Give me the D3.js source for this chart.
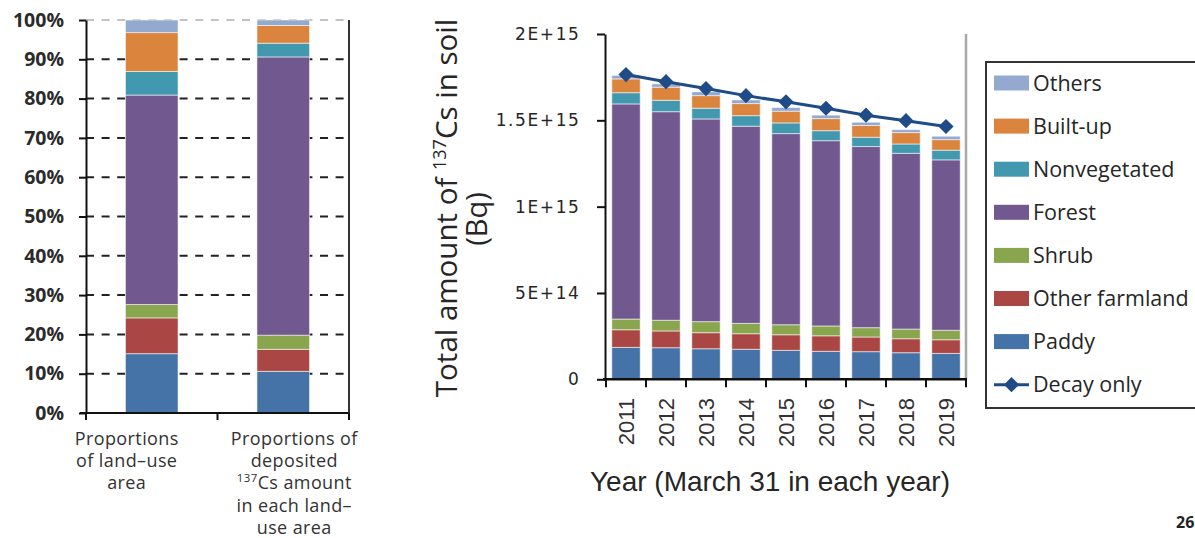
<!DOCTYPE html>
<html>
<head>
<meta charset="utf-8">
<script src="https://cdn.jsdelivr.net/npm/d3@7/dist/d3.min.js"></script>
<style>
  html, body { margin: 0; padding: 0; background: #fff; }
  svg { display: block; }
</style>
</head>
<body>
<svg id="chart" width="1195" height="538"></svg>
<script>
// Land-use classes, bottom of the stack first
const landUse = ["Paddy", "Other farmland", "Shrub", "Forest", "Nonvegetated", "Built-up", "Others"];
const landColors = ["#4572A7", "#AA4643", "#89A54E", "#71588F", "#4198AF", "#DB843D", "#93A9CF"];

// Left panel: share of each land use (%)
const shareCategories = ["area", "deposit"];
const shareLabels = [
  ["Proportions", "of land\u2013use", "area"],
  ["Proportions of", "deposited", "^137Cs amount", "in each land\u2013", "use area"]
];
const areaShare    = [15.1, 9.1, 3.4, 53.3, 6.0, 9.9, 3.2];
const depositShare = [10.6, 5.6, 3.6, 70.8, 3.5, 4.5, 1.4];
const shareTicks = [0, 10, 20, 30, 40, 50, 60, 70, 80, 90, 100];

// Right panel: total 137Cs in soil by land use (Bq), 31 March of each year
const years = ["2011", "2012", "2013", "2014", "2015", "2016", "2017", "2018", "2019"];
const paddy         = [1.85e14, 1.83e14, 1.77e14, 1.74e14, 1.68e14, 1.62e14, 1.60e14, 1.54e14, 1.50e14];
const otherFarmland = [1.02e14, 0.97e14, 0.93e14, 0.90e14, 0.90e14, 0.90e14, 0.85e14, 0.81e14, 0.79e14];
const shrub         = [0.62e14, 0.62e14, 0.64e14, 0.60e14, 0.58e14, 0.57e14, 0.54e14, 0.56e14, 0.55e14];
const forest        = [12.46e14, 12.08e14, 11.74e14, 11.42e14, 11.07e14, 10.73e14, 10.49e14, 10.18e14, 9.87e14];
const nonvegetated  = [0.65e14, 0.66e14, 0.62e14, 0.61e14, 0.62e14, 0.58e14, 0.54e14, 0.54e14, 0.56e14];
const builtUp       = [0.80e14, 0.76e14, 0.73e14, 0.70e14, 0.68e14, 0.70e14, 0.68e14, 0.66e14, 0.61e14];
const others        = [0.20e14, 0.19e14, 0.22e14, 0.21e14, 0.21e14, 0.20e14, 0.19e14, 0.17e14, 0.20e14];
const decayOnly     = [17.65e14, 17.24e14, 16.84e14, 16.43e14, 16.07e14, 15.70e14, 15.30e14, 14.98e14, 14.64e14];
const amountTicks = [0, 5e14, 1e15, 1.5e15, 2e15];
const amountTickLabels = ["0", "5E+14", "1E+15", "1.5E+15", "2E+15"];

const svg = d3.select("#chart");
const TEXT = "#262626";

// ---------- left panel ----------
const shareRows = shareCategories.map((c, i) => {
  const src = i === 0 ? areaShare : depositShare;
  const row = { cat: c };
  landUse.forEach((k, j) => row[k] = src[j]);
  return row;
});
const xL = d3.scaleBand().domain(shareCategories).range([86, 349]).paddingInner(0.6).paddingOuter(0.3);
const yL = d3.scaleLinear().domain([0, 100]).range([413, 20]);

const left = svg.append("g");

// dashed gridlines
left.append("g").selectAll("line").data(shareTicks.filter(t => t > 0 && t < 100)).join("line")
  .attr("x1", 86).attr("x2", 349)
  .attr("y1", d => yL(d)).attr("y2", d => yL(d))
  .attr("stroke", "#222").attr("stroke-width", 2).attr("stroke-dasharray", "8 7.6");
left.append("line")
  .attr("x1", 86).attr("x2", 349).attr("y1", yL(100)).attr("y2", yL(100))
  .attr("stroke", "#b0b0b0").attr("stroke-width", 1.5).attr("stroke-dasharray", "8 7.6");
left.append("line")
  .attr("x1", 349).attr("x2", 349).attr("y1", yL(100)).attr("y2", yL(0))
  .attr("stroke", "#333").attr("stroke-width", 2);

const shareStack = d3.stack().keys(landUse)(shareRows);
left.append("g").selectAll("g").data(shareStack).join("g")
  .attr("fill", (d, i) => landColors[i])
  .selectAll("rect").data(d => d).join("rect")
  .attr("x", d => xL(d.data.cat))
  .attr("width", xL.bandwidth())
  .attr("y", d => yL(d[1]))
  .attr("height", d => yL(d[0]) - yL(d[1]))
  .attr("stroke", "#ffffff").attr("stroke-opacity", 0.55).attr("stroke-width", 1);

// y axis
const yAxisL = left.append("g").attr("transform", "translate(86,0)")
  .call(d3.axisLeft(yL).tickValues(shareTicks).tickFormat(d => d + "%").tickSize(7).tickSizeOuter(0).tickPadding(15));
yAxisL.select(".domain").attr("stroke", "#111").attr("stroke-width", 2);
yAxisL.selectAll(".tick line").attr("stroke", "#111").attr("stroke-width", 2);
yAxisL.selectAll(".tick text")
  .attr("font-family", "'Open Sans', sans-serif").attr("font-weight", 700)
  .attr("font-size", "19.5px").attr("fill", "#2b2b2b");

// x axis with ticks on category boundaries
left.append("line").attr("x1", 80).attr("x2", 349).attr("y1", yL(0)).attr("y2", yL(0))
  .attr("stroke", "#111").attr("stroke-width", 2);
const boundsL = [xL.range()[0], (xL.range()[0] + xL.range()[1]) / 2, xL.range()[1]];
left.append("g").selectAll("line").data(boundsL).join("line")
  .attr("x1", d => d).attr("x2", d => d).attr("y1", yL(0)).attr("y2", yL(0) + 7)
  .attr("stroke", "#111").attr("stroke-width", 2);

// category labels
const labelShift = [-25, 11];
shareLabels.forEach((lines, i) => {
  const cx = xL(shareCategories[i]) + xL.bandwidth() / 2 + labelShift[i];
  const t = left.append("text")
    .attr("font-family", "'Open Sans', sans-serif").attr("font-size", "18px")
    .attr("fill", "#333").attr("text-anchor", "middle").attr("letter-spacing", "0.4px");
  lines.forEach((ln, j) => {
    const ts = t.append("tspan").attr("x", cx).attr("y", 445 + j * 22.2);
    if (ln.startsWith("^")) {
      ts.append("tspan").attr("font-size", "11.5px").attr("dy", -7).text("137");
      ts.append("tspan").attr("dy", 7).text(ln.slice(4));
    } else {
      ts.text(ln);
    }
  });
});

// ---------- right panel ----------
const seriesByUse = [paddy, otherFarmland, shrub, forest, nonvegetated, builtUp, others];
const amountRows = years.map((y, i) => {
  const row = { year: y };
  landUse.forEach((k, j) => row[k] = seriesByUse[j][i]);
  return row;
});
const xR = d3.scaleBand().domain(years).range([606, 966]).paddingInner(0.29).paddingOuter(0.145);
const yR = d3.scaleLinear().domain([0, 2e15]).range([379.3, 34]);

const right = svg.append("g");

right.append("line").attr("x1", 966).attr("x2", 966).attr("y1", yR(2e15)).attr("y2", yR(0))
  .attr("stroke", "#a8a8a8").attr("stroke-width", 2.5);

const amountStack = d3.stack().keys(landUse)(amountRows);
right.append("g").selectAll("g").data(amountStack).join("g")
  .attr("fill", (d, i) => landColors[i])
  .selectAll("rect").data(d => d).join("rect")
  .attr("x", d => xR(d.data.year))
  .attr("width", xR.bandwidth())
  .attr("y", d => yR(d[1]))
  .attr("height", d => yR(d[0]) - yR(d[1]))
  .attr("stroke", "#ffffff").attr("stroke-opacity", 0.55).attr("stroke-width", 1);

// decay-only line with diamond markers
const DECAY = "#1f4b87";
const cxR = d => xR(d) + xR.bandwidth() / 2;
right.append("path")
  .datum(decayOnly)
  .attr("fill", "none").attr("stroke", DECAY).attr("stroke-width", 3)
  .attr("d", d3.line().x((d, i) => cxR(years[i])).y(d => yR(d)));
const diamond = d3.symbol().type(d3.symbolSquare).size(115);
right.append("g").selectAll("path").data(decayOnly).join("path")
  .attr("d", diamond)
  .attr("transform", (d, i) => `translate(${cxR(years[i])},${yR(d)}) rotate(45)`)
  .attr("fill", DECAY);

// y axis
const yAxisR = right.append("g").attr("transform", "translate(605,0)")
  .call(d3.axisLeft(yR).tickValues(amountTicks)
    .tickFormat((d, i) => amountTickLabels[i]).tickSize(8).tickSizeOuter(0).tickPadding(16.5));
yAxisR.select(".domain").attr("stroke", "#111").attr("stroke-width", 2);
yAxisR.selectAll(".tick line").attr("stroke", "#111").attr("stroke-width", 2);
yAxisR.selectAll(".tick text")
  .attr("font-family", "'DejaVu Sans', sans-serif").attr("font-size", "17px")
  .attr("letter-spacing", "1.6px").attr("fill", TEXT);

// x axis
right.append("line").attr("x1", 603).attr("x2", 967).attr("y1", yR(0)).attr("y2", yR(0))
  .attr("stroke", "#111").attr("stroke-width", 2.5);
const boundsR = years.map(y => xR(y) - xR.step() * xR.paddingInner() / 2).concat([966]);
boundsR[0] = 606;
right.append("g").selectAll("line").data(boundsR).join("line")
  .attr("x1", d => d).attr("x2", d => d).attr("y1", yR(0)).attr("y2", yR(0) + 8)
  .attr("stroke", "#111").attr("stroke-width", 2);
right.append("g").selectAll("text").data(years).join("text")
  .attr("transform", d => `translate(${cxR(d)},398) rotate(-90)`)
  .attr("text-anchor", "end").attr("dy", "0.36em")
  .attr("font-family", "'Liberation Sans', Arial, sans-serif").attr("font-size", "22px")
  .attr("fill", "#333").text(d => d);

// axis titles
right.append("text")
  .attr("x", 770).attr("y", 491).attr("text-anchor", "middle")
  .attr("font-family", "'Liberation Sans', Arial, sans-serif").attr("font-size", "28px")
  .attr("fill", TEXT).text("Year (March 31 in each year)");

const yTitle = right.append("text")
  .attr("transform", "translate(456.5,208) rotate(-90)")
  .attr("text-anchor", "middle")
  .attr("font-family", "'Open Sans', sans-serif").attr("font-size", "29.5px").attr("fill", TEXT);
yTitle.append("tspan").text("Total amount of ");
yTitle.append("tspan").attr("font-size", "18px").attr("dy", -11).text("137");
yTitle.append("tspan").attr("dy", 11).text("Cs in soil");
right.append("text")
  .attr("transform", "translate(486.5,219) rotate(-90)")
  .attr("text-anchor", "middle")
  .attr("font-family", "'Open Sans', sans-serif").attr("font-size", "29px").attr("fill", TEXT)
  .text("(Bq)");

// ---------- legend ----------
const legend = svg.append("g");
legend.append("rect").attr("x", 986).attr("y", 62).attr("width", 230).attr("height", 346)
  .attr("fill", "#fff").attr("stroke", "#333").attr("stroke-width", 2);
const legendItems = landUse.map((k, i) => ({ name: k, color: landColors[i] })).reverse();
legendItems.forEach((it, i) => {
  const cy = 83 + i * 43.1;
  legend.append("rect").attr("x", 994).attr("y", cy - 7.5).attr("width", 35).attr("height", 15).attr("fill", it.color);
  legend.append("text").attr("x", 1033).attr("y", cy).attr("dy", "0.35em")
    .attr("font-family", "'Open Sans', sans-serif").attr("font-size", "21.5px").attr("fill", TEXT)
    .text(it.name);
});
{
  const cy = 83 + legendItems.length * 43.1;
  legend.append("line").attr("x1", 994).attr("x2", 1029).attr("y1", cy).attr("y2", cy)
    .attr("stroke", DECAY).attr("stroke-width", 3);
  legend.append("path").attr("d", diamond).attr("transform", `translate(1011.5,${cy}) rotate(45)`).attr("fill", DECAY);
  legend.append("text").attr("x", 1033).attr("y", cy).attr("dy", "0.35em")
    .attr("font-family", "'Open Sans', sans-serif").attr("font-size", "21.5px").attr("fill", TEXT)
    .text("Decay only");
}

// page number
svg.append("text").attr("x", 1176).attr("y", 528)
  .attr("font-family", "'Open Sans', sans-serif").attr("font-weight", 700).attr("font-size", "16px")
  .attr("fill", "#222").text("26");
</script>
</body>
</html>
